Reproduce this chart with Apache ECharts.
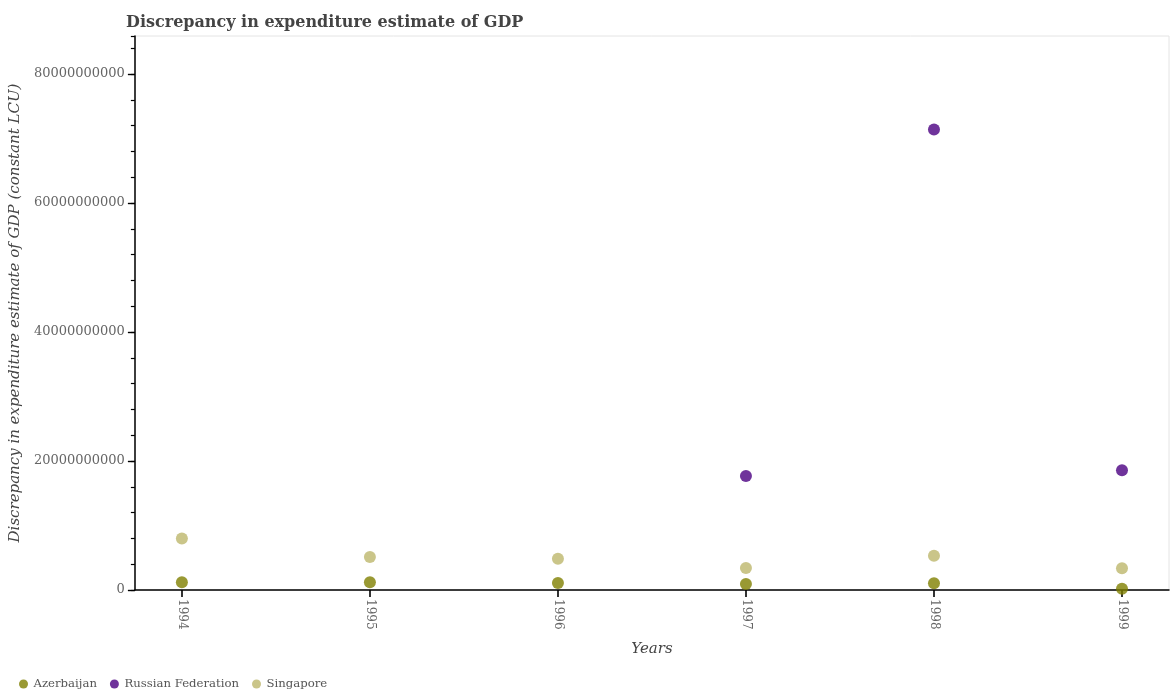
<!DOCTYPE html>
<html>
<head>
<meta charset="utf-8">
<script src="https://cdn.jsdelivr.net/npm/echarts@6/dist/echarts.min.js"></script>
<style>
  html, body { margin: 0; padding: 0; background: #fff; }
  #chart { width: 1174px; height: 700px; }
</style>
</head>
<body>
<div id="chart"></div>
<script>
const years = ['1994', '1995', '1996', '1997', '1998', '1999'];
const azerbaijan = [1.2e9, 1.2e9, 1.1e9, 0.93e9, 1.04e9, 0.2e9];
const russia = [null, null, null, 1.767e10, 7.14e10, 1.856e10];
const singapore = [8.0e9, 5.1e9, 4.85e9, 3.4e9, 5.3e9, 3.36e9];

const font = 'DejaVu Serif';

// quarter-year slots so the years sit a quarter step in from the frame
var slots = ['q0'];
years.forEach(function (y, i) {
  slots.push(y);
  var pads = i < years.length - 1 ? 3 : 1;
  for (var k = 1; k <= pads; k++) slots.push(y + 'q' + k);
});
function isYear(index, value) { return years.indexOf(value) >= 0; }

function pairs(values) {
  var out = [];
  values.forEach(function (v, i) {
    if (v !== null) out.push([years[i], v]);
  });
  return out;
}

var chart = echarts.init(document.getElementById('chart'));
var option = {
  animation: false,
  textStyle: { fontFamily: font },
  title: {
    text: 'Discrepancy in expenditure estimate of GDP',
    left: 121,
    top: 10,
    textStyle: { fontFamily: font, fontSize: 16, fontWeight: 'bold', color: '#444' }
  },
  legend: {
    left: 14,
    top: 673,
    icon: 'circle',
    itemWidth: 10,
    itemHeight: 9,
    itemGap: 13,
    textStyle: { fontFamily: font, fontSize: 11.7, color: '#555' },
    data: ['Azerbaijan', 'Russian Federation', 'Singapore']
  },
  grid: {
    left: 122,
    right: 5,
    top: 36,
    bottom: 110,
    show: true,
    borderColor: '#e4e4e4',
    borderWidth: 1
  },
  xAxis: {
    type: 'category',
    boundaryGap: false,
    data: slots,
    name: 'Years',
    nameLocation: 'middle',
    nameGap: 52,
    nameTextStyle: { fontFamily: font, fontSize: 15, fontStyle: 'italic', color: '#444' },
    splitLine: { show: false },
    axisLine: { show: true, lineStyle: { color: '#000', width: 1.5 } },
    axisTick: { show: true, interval: isYear, length: 7, lineStyle: { color: '#000', width: 1.6 } },
    axisLabel: {
      show: true,
      interval: isYear,
      rotate: -90,
      margin: 9,
      fontFamily: font,
      fontSize: 12,
      color: '#666'
    }
  },
  yAxis: [{
    type: 'value',
    min: 0,
    max: 8.59e10,
    interval: 2e10,
    name: 'Discrepancy in expenditure estimate of GDP (constant LCU)',
    nameLocation: 'middle',
    nameGap: 100,
    nameTextStyle: { fontFamily: font, fontSize: 15, fontStyle: 'italic', color: '#444' },
    splitLine: { show: false },
    axisLine: { show: true, lineStyle: { color: '#000', width: 1.5 } },
    axisTick: { show: true, length: 7, lineStyle: { color: '#000', width: 1.4 } },
    axisLabel: {
      show: true,
      showMaxLabel: false,
      margin: 10,
      fontFamily: font,
      fontSize: 13,
      color: '#666',
      formatter: function (v) { return String(v); }
    }
  }, {
    type: 'value',
    min: 0,
    max: 8.59e10,
    interval: 4e9,
    position: 'left',
    offset: 0,
    splitLine: { show: false },
    axisLine: { show: false },
    axisTick: { show: true, length: 4, lineStyle: { color: '#000', width: 1.2 } },
    axisLabel: { show: false }
  }],
  series: [{
    name: 'Azerbaijan',
    type: 'scatter',
    symbolSize: 12,
    itemStyle: { color: '#808000' },
    data: pairs(azerbaijan)
  }, {
    name: 'Russian Federation',
    type: 'scatter',
    symbolSize: 12,
    itemStyle: { color: '#4b0082' },
    data: pairs(russia)
  }, {
    name: 'Singapore',
    type: 'scatter',
    symbolSize: 12,
    itemStyle: { color: '#bdb76b' },
    data: pairs(singapore)
  }]
};
chart.setOption(option);
</script>
</body>
</html>
